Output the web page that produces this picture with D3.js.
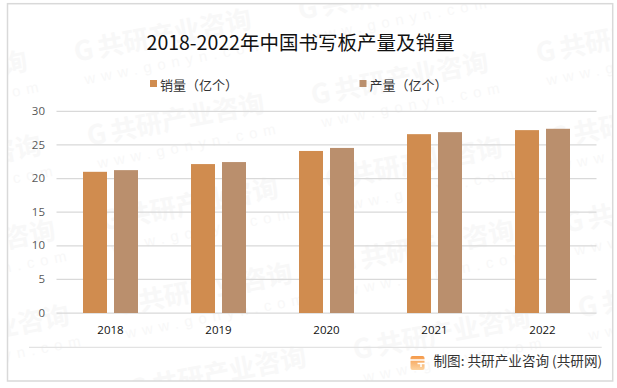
<!DOCTYPE html>
<html>
<head>
<meta charset="utf-8">
<script src="https://cdn.jsdelivr.net/npm/d3@7"></script>
<style>
  html, body { margin: 0; padding: 0; background: #fff; }
  svg { display: block; }
  text { font-family: "Noto Sans CJK SC", sans-serif; }
</style>
</head>
<body>
<svg></svg>
<script>
const years = ['2018', '2019', '2020', '2021', '2022'];
const sales = [21.0, 22.15, 24.1, 26.6, 27.2];
const output = [21.25, 22.45, 24.55, 26.9, 27.4];
const seriesNames = ['销量（亿个）', '产量（亿个）'];
const seriesColors = ['#d08c4f', '#ba8f6d'];
const yTicks = [0, 5, 10, 15, 20, 25, 30];

const Width = 617;
const Height = 388;
const Plot = { left: 56.5, right: 596.5, top: 111.3, bottom: 313 };
const Frame = { x: 7.5, y: 3.7, w: 605.2, h: 377.3 };

const svg = d3.select('svg').attr('width', Width).attr('height', Height);
const defs = svg.append('defs');

// watermark stops at the frame
defs.append('clipPath').attr('id', 'frameClip').append('rect')
  .attr('x', Frame.x).attr('y', Frame.y).attr('width', Frame.w).attr('height', Frame.h);

const marks = [[-149, 104], [-135, 188], [-121, 273], [-107, 358],
  [75, 62], [88, 146], [102, 231], [116, 316], [130, 400],
  [299, 20], [312, 105], [326, 190], [338, 273], [354, 360],
  [537, 63], [551, 148], [565, 233], [579, 318]];
const wm = svg.append('g').attr('fill', '#f8f8f8').attr('clip-path', 'url(#frameClip)');
marks.forEach(m => {
  const g = wm.append('g').attr('transform', `translate(${m[0]},${m[1]}) rotate(-11)`);
  g.append('text').text('G').attr('x', 1).attr('font-size', 27).attr('font-weight', 700);
  g.append('text').text('共研产业咨询').attr('x', 25).attr('font-size', 26).attr('font-weight', 700);
  g.append('text').text('www.gonyn.com').attr('x', 6).attr('y', 24)
    .attr('font-size', 15).attr('letter-spacing', 6)
    .style('font-family', '"Liberation Sans", sans-serif');
});

// outer frame
svg.append('rect').attr('x', Frame.x).attr('y', Frame.y).attr('width', Frame.w).attr('height', Frame.h)
  .attr('fill', 'none').attr('stroke', '#d9d9d9').attr('stroke-width', 1.5);

svg.append('text').text('2018-2022年中国书写板产量及销量')
  .attr('x', 300.5).attr('y', 50).attr('text-anchor', 'middle')
  .attr('font-size', 19.5).attr('fill', '#111');

// legend
const legendX = [150, 359.5];
seriesNames.forEach((name, i) => {
  svg.append('rect').attr('x', legendX[i]).attr('y', 80).attr('width', 7).attr('height', 7)
    .attr('fill', seriesColors[i]);
  svg.append('text').text(name).attr('x', legendX[i] + 10).attr('y', 90)
    .attr('font-size', 13).attr('fill', '#333');
});

const xScale = d3.scaleBand().domain(years).range([Plot.left, Plot.right]);
const yScale = d3.scaleLinear().domain([0, 30]).range([Plot.bottom, Plot.top]);

// y axis + grid
const yAxis = svg.append('g').attr('transform', `translate(${Plot.left},0)`)
  .call(d3.axisLeft(yScale).tickValues(yTicks).tickSize(-(Plot.right - Plot.left)).tickPadding(11.5).offset(0));
yAxis.select('.domain').remove();
yAxis.selectAll('line').attr('stroke', '#d9d9d9').attr('stroke-width', 1.25);
yAxis.selectAll('text').attr('font-size', 11.5).attr('fill', '#595959')
  .style('font-family', '"Open Sans", sans-serif');

// bars
const barW = 24;
const gap = 7;
svg.append('g').selectAll('rect').data(years).enter().append('rect')
  .attr('x', d => xScale(d) + xScale.bandwidth() / 2 - gap / 2 - barW)
  .attr('y', (d, i) => yScale(sales[i]))
  .attr('width', barW)
  .attr('height', (d, i) => yScale(0) - yScale(sales[i]))
  .attr('fill', seriesColors[0]);
svg.append('g').selectAll('rect').data(years).enter().append('rect')
  .attr('x', d => xScale(d) + xScale.bandwidth() / 2 + gap / 2)
  .attr('y', (d, i) => yScale(output[i]))
  .attr('width', barW)
  .attr('height', (d, i) => yScale(0) - yScale(output[i]))
  .attr('fill', seriesColors[1]);

// x axis
const xAxis = svg.append('g').attr('transform', `translate(0,${Plot.bottom})`)
  .call(d3.axisBottom(xScale).tickSize(0).tickPadding(13));
xAxis.select('.domain').remove();
xAxis.selectAll('text').attr('font-size', 11.5).attr('fill', '#111')
  .style('font-family', '"Open Sans", sans-serif');

// footer
svg.append('line').attr('x1', 29).attr('x2', 601.7).attr('y1', 347.3).attr('y2', 347.3)
  .attr('stroke', '#e3e3e3').attr('stroke-width', 1.2);
const grad = defs.append('linearGradient').attr('id', 'logo')
  .attr('x1', 0).attr('y1', 0).attr('x2', 0).attr('y2', 1);
grad.append('stop').attr('offset', 0).attr('stop-color', '#f59a4a');
grad.append('stop').attr('offset', 1).attr('stop-color', '#fcd3a0');
svg.append('rect').attr('x', 410.5).attr('y', 356).attr('width', 14).attr('height', 14).attr('rx', 2)
  .attr('fill', 'url(#logo)');
svg.append('path').attr('d', 'M410 360H425M425 363.5H417.5M421 363.5V367')
  .attr('fill', 'none').attr('stroke', '#fff').attr('stroke-width', 1.5);
svg.append('text').text('制图: 共研产业咨询 (共研网)')
  .attr('x', 433.5).attr('y', 366).attr('font-size', 13.6).attr('fill', '#333');
</script>
</body>
</html>
